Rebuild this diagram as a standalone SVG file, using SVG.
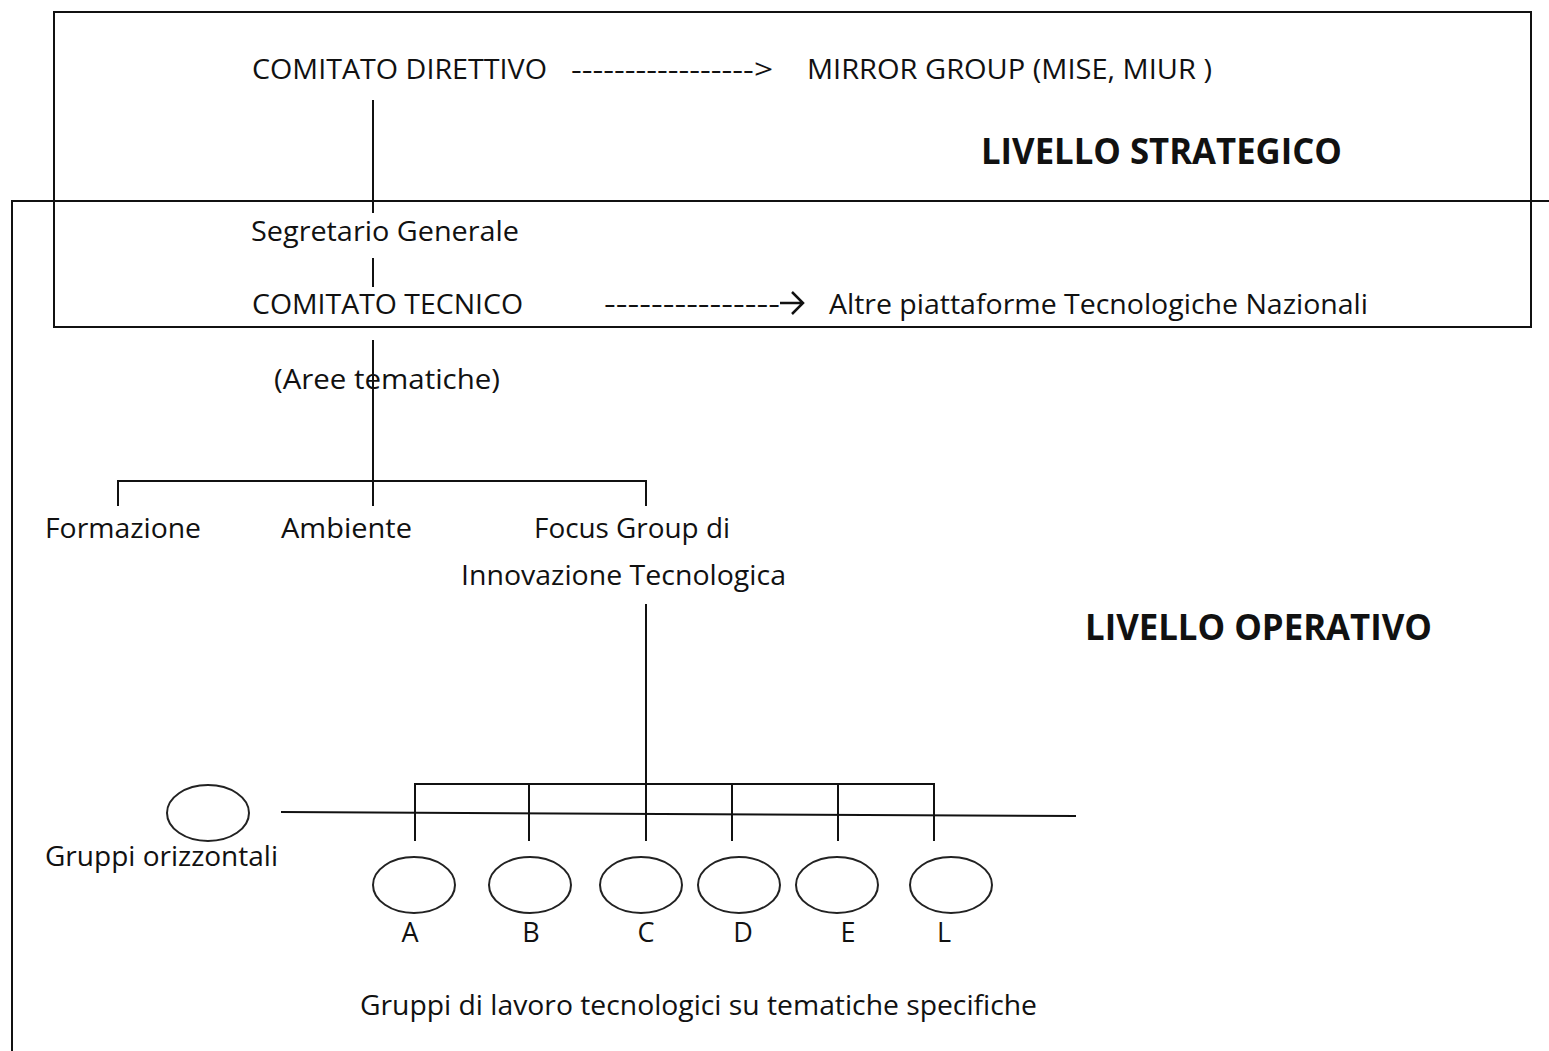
<svg xmlns="http://www.w3.org/2000/svg" width="1549" height="1051" viewBox="0 0 1549 1051">
<style>
text{font-family:"Open Sans","Liberation Sans",sans-serif;font-size:27px;fill:#111}
.b{font-weight:bold;font-size:35px}
.ln{stroke:#111;stroke-width:2;fill:none}
.el{stroke:#222;stroke-width:2;fill:#fff}
</style>
<rect width="1549" height="1051" fill="#fff"/>
<g id="frames">
<rect class="ln" x="54" y="12" width="1477" height="315"/>
<polyline class="ln" points="12,1051 12,201 1549,201"/>
</g>
<g id="connectors">
<line class="ln" x1="373" y1="100" x2="373" y2="213"/>
<line class="ln" x1="373" y1="258" x2="373" y2="287"/>
<line class="ln" x1="373" y1="340" x2="373" y2="506"/>
<polyline class="ln" points="118,506 118,481 646,481 646,506"/>
<line class="ln" x1="646" y1="604" x2="646" y2="841"/>
<polyline class="ln" points="415,841 415,784 934,784 934,841"/>
<line class="ln" x1="529" y1="784" x2="529" y2="841"/>
<line class="ln" x1="732" y1="784" x2="732" y2="841"/>
<line class="ln" x1="838" y1="784" x2="838" y2="841"/>
<line class="ln" x1="281" y1="812" x2="1076" y2="816"/>
</g>
<g id="strategic">
<text x="252" y="79" textLength="295" lengthAdjust="spacingAndGlyphs">COMITATO DIRETTIVO</text>
<text x="571" y="79" textLength="202" lengthAdjust="spacingAndGlyphs">-----------------&gt;</text>
<text x="807" y="79" textLength="405" lengthAdjust="spacingAndGlyphs">MIRROR GROUP (MISE, MIUR )</text>
<text class="b" x="981" y="164" textLength="361" lengthAdjust="spacingAndGlyphs">LIVELLO STRATEGICO</text>
</g>
<g id="segretario"><text x="251" y="241" textLength="268" lengthAdjust="spacingAndGlyphs">Segretario Generale</text></g>
<g id="comitato-tecnico">
<text x="252" y="314" textLength="271" lengthAdjust="spacingAndGlyphs">COMITATO TECNICO</text>
<text x="604" y="313" textLength="176" lengthAdjust="spacingAndGlyphs">---------------</text>
<path d="M780 303H803M792 292L803 303L792 314" stroke="#111" stroke-width="2.5" fill="none"/>
<text x="829" y="314" textLength="539" lengthAdjust="spacingAndGlyphs">Altre piattaforme Tecnologiche Nazionali</text>
</g>
<g id="aree"><text x="274" y="389" textLength="226" lengthAdjust="spacingAndGlyphs">(Aree tematiche)</text></g>
<g id="formazione"><text x="45" y="538" textLength="156" lengthAdjust="spacingAndGlyphs">Formazione</text></g>
<g id="ambiente"><text x="281" y="538" textLength="131" lengthAdjust="spacingAndGlyphs">Ambiente</text></g>
<g id="focus">
<text x="534" y="538" textLength="196" lengthAdjust="spacingAndGlyphs">Focus Group di</text>
<text x="461" y="585" textLength="325" lengthAdjust="spacingAndGlyphs">Innovazione Tecnologica</text>
</g>
<g id="operativo"><text class="b" x="1085" y="640" textLength="347" lengthAdjust="spacingAndGlyphs">LIVELLO OPERATIVO</text></g>
<g id="orizzontali">
<ellipse class="el" cx="208" cy="813" rx="41" ry="28"/>
<text x="45" y="866" textLength="233" lengthAdjust="spacingAndGlyphs">Gruppi orizzontali</text>
</g>
<g id="gA"><ellipse class="el" cx="414" cy="885" rx="41" ry="28"/><text x="410" y="942" text-anchor="middle">A</text></g>
<g id="gB"><ellipse class="el" cx="530" cy="885" rx="41" ry="28"/><text x="531" y="942" text-anchor="middle">B</text></g>
<g id="gC"><ellipse class="el" cx="641" cy="885" rx="41" ry="28"/><text x="646" y="942" text-anchor="middle">C</text></g>
<g id="gD"><ellipse class="el" cx="739" cy="885" rx="41" ry="28"/><text x="743" y="942" text-anchor="middle">D</text></g>
<g id="gE"><ellipse class="el" cx="837" cy="885" rx="41" ry="28"/><text x="848" y="942" text-anchor="middle">E</text></g>
<g id="gL"><ellipse class="el" cx="951" cy="885" rx="41" ry="28"/><text x="944" y="942" text-anchor="middle">L</text></g>
<g id="gruppi-lavoro"><text x="360" y="1015" textLength="677" lengthAdjust="spacingAndGlyphs">Gruppi di lavoro tecnologici su tematiche specifiche</text></g>
</svg>
